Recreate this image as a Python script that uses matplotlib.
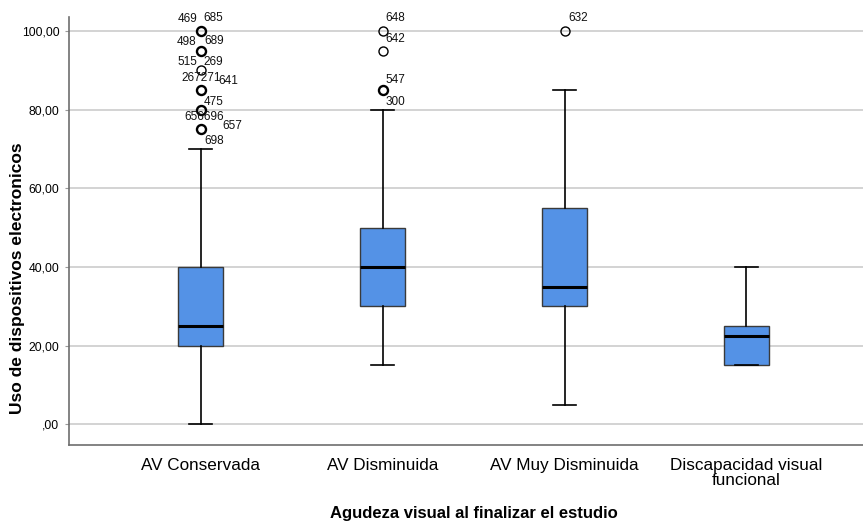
import matplotlib
matplotlib.use("Agg")
import matplotlib.pyplot as plt

plt.rcParams["font.family"] = ["Liberation Sans", "DejaVu Sans"]

categories = ["AV Conservada", "AV Disminuida", "AV Muy Disminuida", "Discapacidad visual\nfuncional"]
q1 = [20, 30, 30, 15]
medians = [25, 40, 35, 22.5]
q3 = [40, 50, 55, 25]
whisker_low = [0, 15, 5, 15]
whisker_high = [70, 80, 85, 40]

# outlier circles: (value, number of cases drawn on top of each other)
fliers = [
    [(100, 2), (95, 2), (90, 1), (85, 3), (80, 2), (75, 3)],
    [(100, 1), (95, 1), (85, 2)],
    [(100, 1)],
    [],
]

# case labels: (value, text)
case_labels = [
    [(100, "469"), (100, "685"), (95, "498"), (95, "689"), (90, "515"), (90, "269"),
     (85, "267271"), (85, "641"), (80, "475"), (75, "656696"), (75, "657"), (70, "698")],
    [(100, "648"), (95, "642"), (85, "547"), (80, "300")],
    [(100, "632")],
    [],
]
# pixel offsets of the case labels from their point
label_offsets = [
    [(-13, 12), (13, 13), (-14, 9), (13, 10), (-13, 8), (13, 8),
     (0, 12), (28, 9), (13, 8), (3, 12), (32, 3), (13, 8)],
    [(13, 13), (13, 12), (13, 10), (13, 8)],
    [(14, 13)],
    [],
]

yticks = [0, 20, 40, 60, 80, 100]
ytick_labels = [",00", "20,00", "40,00", "60,00", "80,00", "100,00"]

fig = plt.figure(figsize=(8.63, 5.25), dpi=100)
ax = fig.add_axes([0.080, 0.152, 0.92, 0.816])

stats = []
for i in range(len(categories)):
    stats.append({"med": medians[i], "q1": q1[i], "q3": q3[i],
                  "whislo": whisker_low[i], "whishi": whisker_high[i], "fliers": []})

positions = list(range(1, len(categories) + 1))
ax.bxp(stats, positions=positions, widths=0.248, patch_artist=True, showfliers=False,
       capwidths=0.125,
       boxprops=dict(facecolor="#5492E6", edgecolor="#3a3a3a", linewidth=1.0),
       medianprops=dict(color="black", linewidth=2.2),
       whiskerprops=dict(color="black", linewidth=1.2),
       capprops=dict(color="black", linewidth=1.2),
       zorder=3)

for pos, pts in zip(positions, fliers):
    for val, n in pts:
        ax.plot(pos, val, marker="o", ms=6.5, mfc="none", mec="black",
                mew=1.0 if n == 1 else 1.7, linestyle="none", zorder=4, clip_on=False)

for pos, labs, offs in zip(positions, case_labels, label_offsets):
    for (val, txt), (dx, dy) in zip(labs, offs):
        ax.annotate(txt, (pos, val), xytext=(dx, dy), textcoords="offset pixels",
                    ha="center", va="center", fontsize=8.5, color="#111111",
                    annotation_clip=False, zorder=5)

ax.set_xlim(0.276, 4.641)
ax.set_ylim(-5.3, 103.6)
ax.set_yticks(yticks)
ax.set_yticklabels(ytick_labels, fontsize=8.8)
ax.set_xticks(positions)
ax.set_xticklabels(categories, fontsize=12.3, linespacing=1.0)
ax.tick_params(axis="x", length=0, pad=9)
ax.tick_params(axis="y", length=3, color="#9a9a9a", pad=4)
ax.yaxis.grid(True, color="#cccccc", linewidth=1.2, zorder=0)
ax.set_axisbelow(True)

for side in ["top", "right"]:
    ax.spines[side].set_visible(False)
for side in ["left", "bottom"]:
    ax.spines[side].set_color("#6e6e6e")
    ax.spines[side].set_linewidth(1.2)

ax.set_xlabel("Agudeza visual al finalizar el estudio", fontsize=12, fontweight="bold")
ax.set_ylabel("Uso de dispositivos electronicos", fontsize=12.5, fontweight="bold")
ax.xaxis.set_label_coords((473 - 69) / 793, -(513 - 445) / 428)
ax.yaxis.set_label_coords(-(69 - 18) / 793, (445 - 278) / 428)
ax.xaxis.label.set_va("center")
ax.yaxis.label.set_va("center")

fig.savefig("out.png", dpi=100)
